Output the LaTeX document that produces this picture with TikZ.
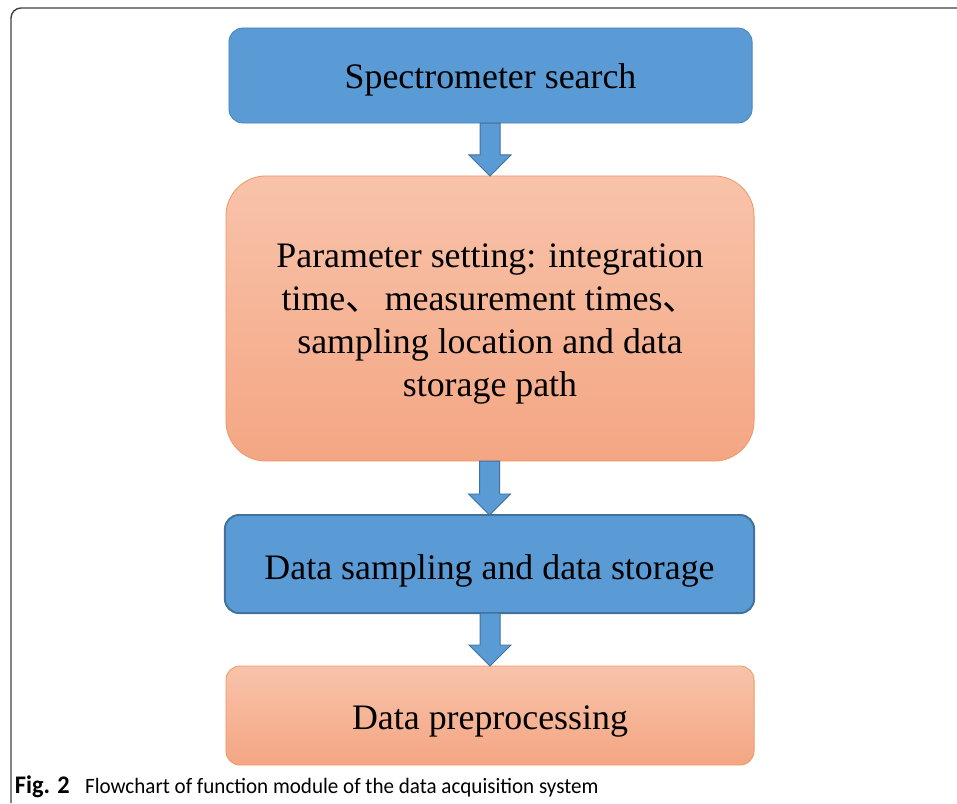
\documentclass[tikz,border=0pt]{standalone}
\usepackage{fontspec}
\setmainfont{Liberation Serif}
\newfontfamily\cjkfont{Noto Sans CJK SC}
\newfontfamily\capfont[FakeStretch=0.96]{Carlito}
\usetikzlibrary{calc}
\definecolor{boxblue}{HTML}{5B9BD5}
\definecolor{edgeblue}{HTML}{41719C}
\definecolor{peachtop}{HTML}{F8C3AA}
\definecolor{peachbot}{HTML}{F4A683}
\definecolor{edgeorange}{HTML}{EE9A66}
\tikzset{
    every node/.style={align=center, outer sep=0pt, inner sep=0pt,},
    bluebox/.style={draw=boxblue!85!black, fill=boxblue, rectangle, rounded corners=0.35cm, line width=0.6pt,},
    peachbox/.style={draw=edgeorange, top color=peachtop, bottom color=peachbot, rectangle, rounded corners=0.35cm, line width=0.6pt,},
    boxtext/.style={font=\fontsize{25.5pt}{30.6pt}\selectfont,},
    blockarrow/.style={draw=edgeblue, fill=boxblue, line width=0.7pt, line join=miter,},
}

\begin{document}
\begin{tikzpicture}[x=0.025cm, y=-0.025cm]
    \useasboundingbox (0,0) rectangle (957,803);
    \draw[black!75, line width=1pt, rounded corners=0.25cm] (11,803) -- (11,8) -- (957,8);

    \node[bluebox, boxtext, text height=0.65cm, text depth=0pt, minimum width=13.075cm, minimum height=2.375cm] (search) at (490.5, 75.5) {Spectrometer search};
    \node[peachbox, boxtext, rounded corners=1cm, minimum width=13.2cm, minimum height=7.125cm] (param) at (490, 318.5)
        {\rule{0pt}{0.85cm}Parameter setting: integration\\time{\cjkfont 、}\hspace{0.1em}measurement times{\cjkfont 、}\\sampling location and data\\storage path};
    \node[bluebox, boxtext, draw=edgeblue, line width=1.4pt, text height=0.75cm, text depth=0pt, minimum width=13.225cm, minimum height=2.45cm] (sampling) at (489.5, 564) {Data sampling and data storage};
    \node[peachbox, boxtext, text height=0.675cm, text depth=0pt, minimum width=13.2cm, minimum height=2.475cm] (preproc) at (490, 715.5) {Data preprocessing};

    \foreach \from/\to in {search/param, param/sampling, sampling/preproc}
        \draw[blockarrow] ($(\to.north |- \from.south)+(-10,0)$) -- ($(\to.north)+(-10,-21)$) -- ($(\to.north)+(-21,-21)$)
            -- (\to.north) -- ($(\to.north)+(21,-21)$) -- ($(\to.north)+(10,-21)$) -- ($(\to.north |- \from.south)+(10,0)$) -- cycle;

    \node[anchor=base west, font=\capfont\fontsize{15.6pt}{19pt}\selectfont] (caption) at (15, 793)
        {{\fontsize{18pt}{20pt}\selectfont\bfseries Fig. 2}\hspace{0.7em}Flowchart of function module of the data acquisition system};
\end{tikzpicture}
\end{document}
